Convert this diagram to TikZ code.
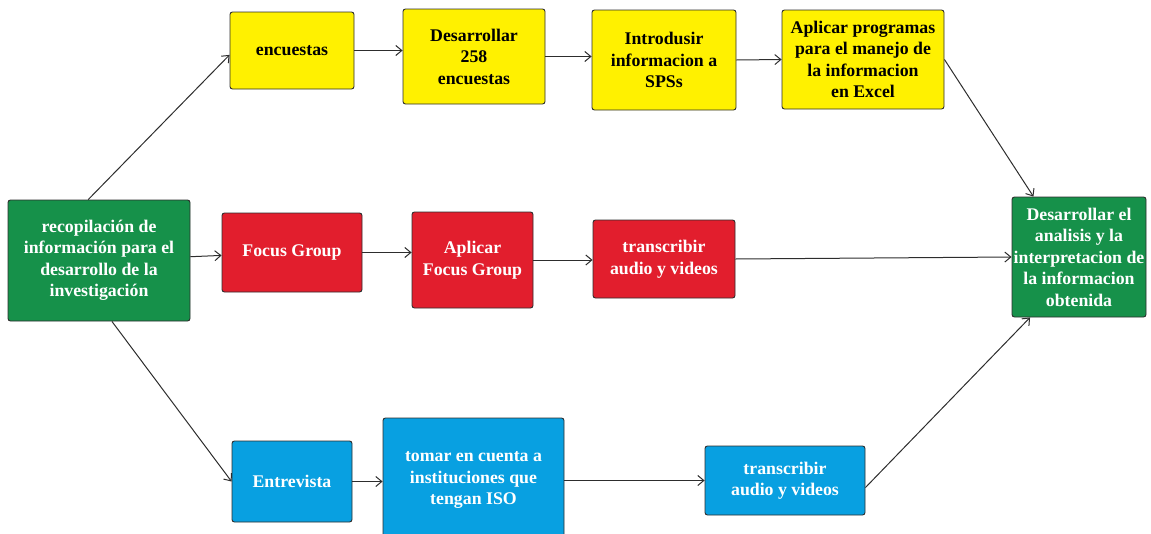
\documentclass[tikz,border=0pt]{standalone}
\usepackage{fontspec}
\setmainfont{Liberation Serif}
\usepackage{xcolor}
\usetikzlibrary{arrows.meta,positioning}
\definecolor{verde}{RGB}{22,145,74}
\definecolor{amarillo}{RGB}{255,241,0}
\definecolor{rojo}{RGB}{226,30,45}
\definecolor{azul}{RGB}{8,160,225}
\definecolor{borde}{RGB}{45,45,45}

\begin{document}
\begin{tikzpicture}[x=1pt, y=-1pt,
  font=\fontsize{17.8}{21.5}\selectfont\bfseries,
  box/.style={draw=borde, line width=0.9pt, rounded corners=2.5pt, align=center, inner sep=1pt},
  enc/.style={box, fill=amarillo, text=black},
  foc/.style={box, fill=rojo, text=white},
  ent/.style={box, fill=azul, text=white},
  res/.style={box, fill=verde, text=white},
  arr/.style={-{Straight Barb[length=6pt,width=10pt]}, line width=1pt, draw=borde}]
\useasboundingbox (0,0) rectangle (1151,533);
% start and end
\node[res, minimum width=182, minimum height=121] (recop) at (99,260.5) {recopilación de\\información para el\\desarrollo de la\\investigación};
\node[res, minimum width=134, minimum height=120] (final) at (1079,257) {Desarrollar el\\analisis y la\\interpretacion de\\la informacion\\obtenida};
% encuestas (row 1)
\node[enc, minimum width=124, minimum height=77]  (enc)   at (292,50.5) {encuestas};
\node[enc, minimum width=142, minimum height=95]  (des)   at (474,56.5) {Desarrollar\\258\\encuestas};
\node[enc, minimum width=144, minimum height=100] (intro) at (664,60)   {Introdusir\\informacion a\\SPSs};
\node[enc, minimum width=162, minimum height=99]  (apl)   at (863,59.5) {Aplicar programas\\para el manejo de\\la informacion\\en Excel};
% focus group (row 2)
\node[foc, minimum width=140, minimum height=79] (focus)  at (292,252.5) {Focus Group};
\node[foc, minimum width=121, minimum height=96] (aplf)   at (472.5,260) {Aplicar\\Focus Group};
\node[foc, minimum width=142, minimum height=78] (transr) at (664,259)   {transcribir\\audio y videos};
% entrevista (row 3)
\node[ent, minimum width=120, minimum height=81]  (entr)   at (292,481.5) {Entrevista};
\node[ent, minimum width=181, minimum height=124] (tomar)  at (473.5,480) {tomar en cuenta a\\instituciones que\\tengan ISO};
\node[ent, minimum width=160, minimum height=69]  (transb) at (785,480.5) {transcribir\\audio y videos};
% arrows
\draw[arr] (recop.100) -- (enc.184);
\draw[arr] (recop) -- (focus);
\draw[arr] (recop.282) -- (entr.west);
\draw[arr] (enc) -- (des.west |- enc);
\draw[arr] (des.east) -- (intro.west |- des.east);
\draw[arr] (intro.east) -- (apl.west);
\draw[arr] (apl.east) -- (final.127);
\draw[arr] (focus) -- (aplf.west |- focus);
\draw[arr] (aplf.east) -- (transr.west |- aplf.east);
\draw[arr] (transr.east) -- (final.west);
\draw[arr] (entr) -- (tomar.west |- entr);
\draw[arr] (tomar.east |- transb.west) -- (transb.west);
\draw[arr] (transb.355) -- (final.231);
\end{tikzpicture}
\end{document}
